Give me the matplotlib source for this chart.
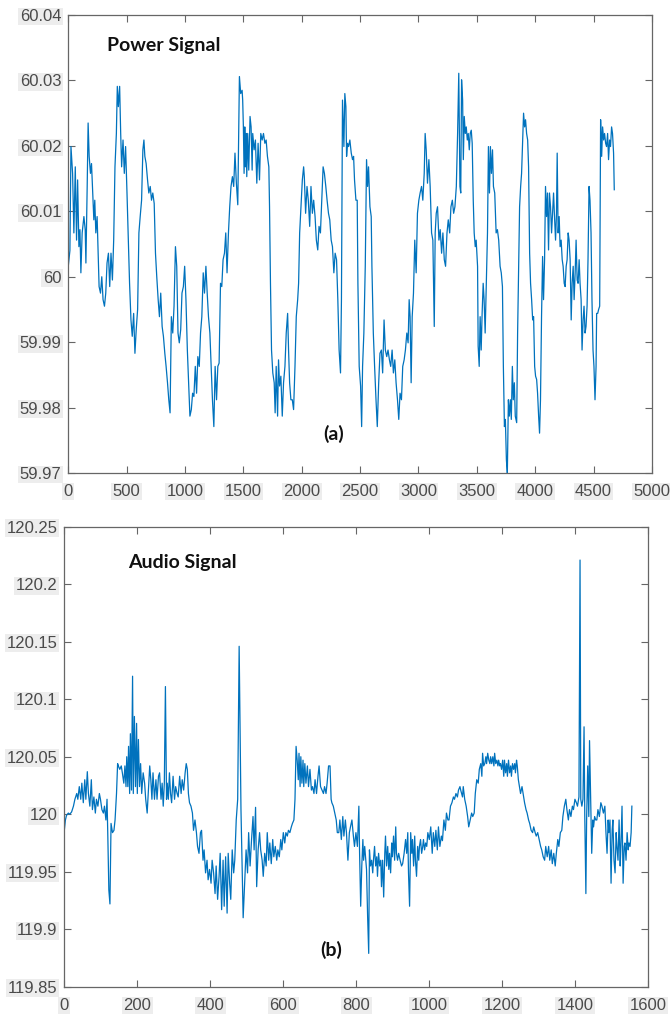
import matplotlib
matplotlib.use("Agg")
import matplotlib.pyplot as plt

# (a) power signal
power_t = [0, 14, 23, 37, 48, 60, 71, 80, 91, 100, 108, 119, 134, 145, 151, 162, 170, 179, 190, 199,
           207, 219, 227, 236, 247, 256, 264, 276, 287, 298, 310, 321, 332, 344, 355, 366, 378, 389, 400, 412,
           420, 429, 440, 449, 457, 469, 480, 491, 503, 514, 525, 537, 548, 560, 571, 582, 594, 605, 616, 628,
           639, 648, 656, 667, 679, 690, 702, 713, 724, 736, 747, 758, 770, 781, 792, 804, 815, 827, 838, 850,
           861, 872, 883, 895, 906, 918, 929, 940, 951, 963, 974, 986, 997, 1008, 1020, 1031, 1042, 1054, 1065, 1076,
           1088, 1099, 1110, 1122, 1133, 1144, 1156, 1167, 1179, 1190, 1201, 1213, 1224, 1235, 1247, 1258, 1270, 1281, 1292, 1304,
           1315, 1326, 1338, 1349, 1360, 1372, 1383, 1394, 1406, 1417, 1428, 1440, 1452, 1466, 1477, 1489, 1494, 1500, 1506, 1512,
           1517, 1523, 1529, 1537, 1546, 1557, 1566, 1575, 1580, 1592, 1603, 1615, 1626, 1638, 1649, 1661, 1672, 1684, 1695, 1706,
           1718, 1724, 1732, 1741, 1752, 1764, 1772, 1781, 1793, 1801, 1810, 1821, 1833, 1844, 1856, 1867, 1879, 1887, 1896, 1907,
           1919, 1930, 1942, 1953, 1965, 1973, 1982, 1993, 2005, 2016, 2022, 2033, 2045, 2056, 2068, 2079, 2091, 2102, 2114, 2125,
           2137, 2148, 2160, 2171, 2183, 2194, 2206, 2217, 2229, 2240, 2252, 2263, 2275, 2286, 2298, 2309, 2320, 2332, 2340, 2349,
           2361, 2369, 2378, 2384, 2392, 2401, 2412, 2424, 2435, 2444, 2452, 2464, 2475, 2481, 2492, 2504, 2513, 2521, 2532, 2544,
           2555, 2564, 2572, 2584, 2595, 2601, 2613, 2624, 2636, 2647, 2659, 2670, 2682, 2693, 2705, 2716, 2728, 2739, 2751, 2762,
           2774, 2785, 2797, 2808, 2820, 2831, 2842, 2854, 2865, 2877, 2888, 2900, 2911, 2920, 2928, 2937, 2946, 2957, 2968, 2980,
           2991, 3003, 3014, 3026, 3037, 3049, 3057, 3066, 3077, 3089, 3100, 3112, 3123, 3135, 3143, 3152, 3163, 3175, 3186, 3198,
           3209, 3221, 3232, 3244, 3255, 3267, 3278, 3290, 3301, 3312, 3324, 3335, 3345, 3355, 3362, 3369, 3378, 3384, 3392, 3401,
           3409, 3418, 3426, 3435, 3443, 3452, 3460, 3469, 3477, 3486, 3494, 3506, 3511, 3520, 3528, 3537, 3545, 3554, 3562, 3571,
           3580, 3591, 3599, 3608, 3616, 3625, 3634, 3642, 3653, 3665, 3676, 3687, 3699, 3709, 3719, 3727, 3736, 3744, 3753, 3761,
           3770, 3778, 3787, 3795, 3804, 3812, 3821, 3829, 3841, 3849, 3858, 3866, 3875, 3883, 3892, 3900, 3909, 3917, 3926, 3935,
           3943, 3952, 3960, 3969, 3978, 3986, 3995, 4003, 4012, 4020, 4029, 4037, 4045, 4054, 4063, 4071, 4080, 4088, 4097, 4105,
           4114, 4122, 4131, 4140, 4148, 4157, 4165, 4174, 4182, 4188, 4196, 4205, 4213, 4222, 4231, 4239, 4248, 4256, 4265, 4273,
           4282, 4290, 4299, 4308, 4316, 4325, 4333, 4342, 4350, 4359, 4367, 4376, 4384, 4393, 4401, 4410, 4418, 4427, 4435, 4444,
           4452, 4461, 4469, 4478, 4486, 4495, 4503, 4512, 4521, 4526, 4535, 4543, 4552, 4560, 4569, 4577, 4586, 4594, 4603, 4611,
           4620, 4628, 4637, 4645, 4654, 4662, 4671, 4677]
power_f = [60.0016, 60.0040, 60.0199, 60.0158, 60.0067, 60.0168, 60.0056, 60.0148, 60.0046, 60.0072,
           60.0006, 60.0067, 60.0092, 60.0072, 60.0021, 60.0138, 60.0235, 60.0184, 60.0158, 60.0173,
           60.0138, 60.0087, 60.0117, 60.0067, 60.0092, 60.0036, 59.9985, 59.9975, 60.0000, 59.9965,
           59.9955, 59.9975, 60.0021, 60.0036, 59.9985, 60.0036, 59.9995, 60.0056, 60.0168, 60.0219,
           60.0291, 60.0260, 60.0291, 60.0219, 60.0168, 60.0209, 60.0158, 60.0199, 60.0128, 60.0056,
           59.9990, 59.9934, 59.9909, 59.9944, 59.9883, 59.9919, 59.9950, 60.0067, 60.0092, 60.0117,
           60.0194, 60.0209, 60.0184, 60.0173, 60.0148, 60.0128, 60.0138, 60.0117, 60.0128, 60.0112,
           60.0036, 60.0000, 59.9965, 59.9939, 59.9975, 59.9924, 59.9909, 59.9883, 59.9863, 59.9838,
           59.9812, 59.9792, 59.9939, 59.9914, 59.9955, 60.0046, 60.0016, 59.9914, 59.9899, 59.9919,
           59.9975, 59.9985, 60.0016, 59.9965, 59.9888, 59.9838, 59.9787, 59.9797, 59.9822, 59.9817,
           59.9863, 59.9822, 59.9878, 59.9863, 59.9914, 59.9939, 60.0006, 59.9975, 60.0016, 59.9975,
           59.9939, 59.9914, 59.9863, 59.9812, 59.9771, 59.9863, 59.9812, 59.9863, 59.9868, 59.9990,
           59.9985, 60.0026, 60.0036, 60.0067, 60.0006, 60.0067, 60.0107, 60.0138, 60.0153, 60.0138,
           60.0189, 60.0143, 60.0110, 60.0306, 60.0280, 60.0285, 60.0270, 60.0229, 60.0158, 60.0229,
           60.0168, 60.0219, 60.0153, 60.0219, 60.0163, 60.0245, 60.0229, 60.0163, 60.0219, 60.0194,
           60.0209, 60.0143, 60.0204, 60.0148, 60.0219, 60.0209, 60.0219, 60.0204, 60.0209, 60.0184,
           60.0168, 60.0107, 59.9990, 59.9888, 59.9853, 59.9838, 59.9792, 59.9863, 59.9787, 59.9873,
           59.9833, 59.9848, 59.9787, 59.9838, 59.9863, 59.9914, 59.9944, 59.9888, 59.9838, 59.9812,
           59.9812, 59.9797, 59.9863, 59.9939, 59.9965, 59.9990, 60.0067, 60.0107, 60.0148, 60.0168,
           60.0153, 60.0097, 60.0138, 60.0117, 60.0077, 60.0138, 60.0097, 60.0117, 60.0092, 60.0056,
           60.0041, 60.0077, 60.0067, 60.0117, 60.0168, 60.0158, 60.0138, 60.0117, 60.0097, 60.0087,
           60.0056, 60.0046, 60.0006, 60.0036, 60.0026, 59.9965, 59.9888, 59.9853, 59.9965, 60.0270,
           60.0199, 60.0280, 60.0260, 60.0184, 60.0204, 60.0199, 60.0209, 60.0189, 60.0179, 60.0184,
           60.0148, 60.0117, 60.0117, 59.9990, 59.9863, 59.9833, 59.9771, 59.9863, 59.9914, 60.0016,
           60.0179, 60.0138, 60.0168, 60.0107, 60.0092, 60.0016, 59.9914, 59.9863, 59.9812, 59.9771,
           59.9838, 59.9883, 59.9888, 59.9853, 59.9934, 59.9888, 59.9878, 59.9888, 59.9873, 59.9863,
           59.9888, 59.9853, 59.9873, 59.9838, 59.9812, 59.9782, 59.9822, 59.9812, 59.9863, 59.9873,
           59.9888, 59.9914, 59.9899, 59.9965, 59.9939, 59.9838, 59.9939, 59.9975, 60.0056, 60.0006,
           60.0097, 60.0117, 60.0128, 60.0138, 60.0117, 60.0158, 60.0219, 60.0194, 60.0143, 60.0179,
           60.0138, 60.0067, 60.0056, 59.9924, 60.0067, 60.0097, 60.0107, 60.0056, 60.0072, 60.0036,
           60.0067, 60.0026, 60.0016, 60.0067, 60.0087, 60.0067, 60.0107, 60.0117, 60.0097, 60.0107,
           60.0138, 60.0219, 60.0311, 60.0138, 60.0128, 60.0301, 60.0270, 60.0179, 60.0245, 60.0219,
           60.0229, 60.0209, 60.0219, 60.0194, 60.0219, 60.0224, 60.0204, 60.0117, 60.0067, 60.0046,
           60.0056, 60.0016, 59.9894, 59.9863, 59.9939, 59.9888, 59.9944, 59.9990, 59.9965, 59.9914,
           59.9980, 60.0067, 60.0199, 60.0128, 60.0199, 60.0158, 60.0194, 60.0138, 60.0128, 60.0067,
           60.0072, 60.0056, 60.0016, 60.0006, 59.9985, 59.9863, 59.9771, 59.9782, 59.9720, 59.9700,
           59.9812, 59.9787, 59.9812, 59.9782, 59.9863, 59.9812, 59.9838, 59.9787, 59.9777, 59.9914,
           60.0016, 60.0107, 60.0138, 60.0158, 60.0209, 60.0250, 60.0229, 60.0240, 60.0219, 60.0209,
           60.0168, 60.0036, 59.9990, 59.9965, 59.9934, 59.9939, 59.9863, 59.9848, 59.9843, 59.9822,
           59.9787, 59.9761, 59.9812, 59.9939, 60.0031, 59.9965, 60.0026, 60.0138, 60.0092, 60.0128,
           60.0041, 60.0128, 60.0107, 60.0067, 60.0097, 60.0128, 60.0092, 60.0056, 60.0097, 60.0189,
           60.0067, 60.0092, 60.0046, 60.0056, 60.0026, 60.0016, 59.9990, 59.9985, 60.0016, 60.0026,
           60.0067, 60.0056, 60.0026, 59.9934, 59.9990, 60.0016, 59.9965, 60.0006, 60.0056, 59.9995,
           59.9990, 60.0026, 59.9990, 59.9965, 59.9888, 59.9934, 59.9955, 59.9914, 59.9924, 59.9955,
           60.0026, 60.0138, 60.0117, 60.0067, 59.9965, 59.9888, 59.9863, 59.9812, 59.9863, 59.9944,
           59.9944, 59.9950, 59.9955, 60.0240, 60.0184, 60.0229, 60.0209, 60.0219, 60.0204, 60.0199,
           60.0219, 60.0179, 60.0209, 60.0199, 60.0229, 60.0219, 60.0189, 60.0133]

# (b) audio signal
audio_t = [0, 3, 6, 11, 15, 20, 25, 29, 34, 37, 41, 45, 48, 52, 56, 59, 63, 66, 70, 74,
           77, 81, 85, 88, 92, 96, 99, 103, 107, 110, 114, 117, 119, 122, 125, 128, 132, 136, 139, 143,
           146, 148, 152, 156, 159, 163, 166, 169, 171, 174, 176, 179, 181, 184, 187, 189, 192, 195, 198, 200,
           203, 206, 209, 212, 216, 220, 223, 227, 230, 234, 237, 240, 243, 247, 251, 254, 258, 261, 265, 268,
           271, 274, 277, 280, 282, 285, 288, 291, 294, 298, 302, 305, 309, 312, 316, 320, 323, 327, 331, 334,
           337, 340, 343, 347, 351, 354, 358, 362, 365, 369, 373, 376, 380, 383, 387, 391, 394, 398, 402, 405,
           409, 413, 416, 420, 424, 427, 431, 435, 438, 442, 446, 449, 453, 456, 460, 464, 467, 471, 475, 479,
           484, 487, 490, 494, 498, 502, 505, 509, 513, 517, 520, 524, 527, 531, 535, 538, 542, 545, 549, 553,
           556, 560, 563, 567, 571, 574, 578, 582, 585, 589, 593, 596, 600, 604, 607, 611, 614, 618, 622, 625,
           629, 632, 635, 638, 641, 643, 646, 648, 651, 654, 656, 659, 662, 666, 669, 673, 677, 680, 684, 687,
           691, 695, 698, 702, 706, 710, 713, 717, 720, 724, 728, 731, 733, 737, 741, 745, 748, 752, 755, 759,
           763, 766, 770, 773, 777, 781, 784, 788, 792, 795, 799, 803, 807, 809, 812, 815, 818, 820, 823, 826,
           828, 831, 834, 836, 839, 842, 845, 847, 850, 853, 856, 858, 861, 864, 867, 869, 872, 875, 878, 880,
           883, 886, 889, 891, 894, 897, 899, 902, 905, 908, 910, 913, 916, 920, 924, 927, 931, 935, 938, 941,
           943, 946, 949, 952, 954, 957, 960, 962, 965, 968, 971, 973, 976, 979, 982, 984, 987, 990, 993, 996,
           1000, 1004, 1008, 1011, 1015, 1018, 1022, 1025, 1029, 1033, 1036, 1040, 1044, 1047, 1051, 1054, 1058, 1062, 1066, 1069,
           1073, 1077, 1080, 1084, 1086, 1091, 1093, 1097, 1101, 1105, 1108, 1112, 1116, 1119, 1123, 1126, 1130, 1134, 1137, 1141,
           1144, 1146, 1149, 1152, 1155, 1157, 1160, 1163, 1166, 1168, 1171, 1174, 1177, 1179, 1182, 1185, 1188, 1190, 1193, 1195,
           1198, 1201, 1204, 1206, 1209, 1212, 1214, 1217, 1220, 1223, 1225, 1228, 1231, 1234, 1236, 1239, 1241, 1244, 1247, 1250,
           1254, 1257, 1261, 1265, 1268, 1272, 1275, 1279, 1283, 1286, 1290, 1293, 1297, 1301, 1305, 1308, 1312, 1316, 1319, 1323,
           1327, 1330, 1334, 1337, 1341, 1345, 1348, 1352, 1355, 1359, 1363, 1366, 1370, 1374, 1377, 1381, 1384, 1388, 1392, 1395,
           1399, 1403, 1406, 1410, 1413, 1415, 1418, 1421, 1424, 1426, 1429, 1431, 1434, 1437, 1439, 1442, 1445, 1448, 1450, 1453,
           1456, 1459, 1462, 1466, 1470, 1473, 1477, 1481, 1484, 1487, 1490, 1492, 1495, 1498, 1501, 1503, 1506, 1509, 1512, 1514,
           1517, 1520, 1523, 1525, 1528, 1531, 1534, 1536, 1539, 1542, 1545, 1547, 1550, 1553, 1555]
audio_f = [119.986, 119.995, 119.999, 120.001, 120.000, 120.002, 120.007, 120.013, 120.018, 120.013,
           120.024, 120.013, 120.027, 120.010, 120.030, 120.013, 120.037, 120.018, 120.007, 120.030,
           120.004, 120.015, 120.001, 120.013, 120.007, 120.018, 120.013, 120.004, 120.001, 120.007,
           119.995, 120.013, 119.984, 119.934, 119.922, 119.992, 119.984, 119.986, 119.995, 120.018,
           120.044, 120.042, 120.039, 120.042, 120.036, 120.027, 120.042, 120.024, 120.050, 120.024,
           120.059, 120.018, 120.070, 120.021, 120.120, 120.018, 120.085, 120.024, 120.079, 120.018,
           120.065, 120.024, 120.044, 120.018, 120.036, 120.027, 120.013, 120.001, 120.018, 120.042,
           120.030, 120.013, 120.036, 120.013, 120.030, 120.013, 120.033, 120.036, 120.013, 120.027,
           120.007, 120.027, 120.111, 120.013, 120.027, 120.013, 120.036, 120.018, 120.010, 120.033,
           120.013, 120.024, 120.018, 120.015, 120.033, 120.018, 120.030, 120.021, 120.036, 120.044,
           120.039, 120.018, 120.010, 120.007, 120.001, 119.986, 119.995, 119.984, 119.972, 119.966,
           119.984, 119.986, 119.960, 119.969, 119.949, 119.960, 119.943, 119.952, 119.940, 119.960,
           119.949, 119.931, 119.955, 119.926, 119.946, 119.966, 119.917, 119.960, 119.920, 119.963,
           119.914, 119.966, 119.940, 119.926, 119.969, 119.949, 119.960, 119.995, 120.013, 120.146,
           120.004, 119.955, 119.910, 119.940, 119.969, 119.949, 119.984, 119.955, 119.978, 119.998,
           119.969, 120.006, 119.937, 119.969, 119.984, 119.969, 119.960, 119.946, 119.966, 119.955,
           119.984, 119.960, 119.975, 119.957, 119.978, 119.963, 119.972, 119.960, 119.969, 119.963,
           119.978, 119.969, 119.984, 119.975, 119.984, 119.981, 119.986, 119.984, 119.989, 119.992,
           119.995, 120.013, 120.059, 120.047, 120.030, 120.053, 120.024, 120.050, 120.027, 120.047,
           120.024, 120.044, 120.027, 120.042, 120.024, 120.039, 120.021, 120.024, 120.018, 120.030,
           120.018, 120.033, 120.042, 120.024, 120.021, 120.018, 120.024, 120.018, 120.027, 120.042,
           120.042, 120.013, 120.010, 120.007, 120.001, 119.995, 119.984, 119.984, 119.995, 119.978,
           119.998, 119.981, 119.995, 119.984, 119.960, 119.984, 119.989, 119.995, 119.981, 119.972,
           119.984, 119.972, 120.007, 119.966, 119.920, 119.955, 119.978, 119.960, 119.972, 119.960,
           119.952, 119.911, 119.879, 119.969, 119.955, 119.960, 119.949, 119.960, 119.972, 119.955,
           119.963, 119.946, 119.966, 119.955, 119.960, 119.937, 119.960, 119.928, 119.966, 119.981,
           119.955, 119.972, 119.952, 119.966, 119.949, 119.975, 119.963, 119.981, 119.960, 119.989,
           119.966, 119.960, 119.966, 119.960, 119.955, 119.957, 119.966, 119.978, 119.966, 119.984,
           119.949, 119.920, 119.984, 119.966, 119.978, 119.955, 119.981, 119.960, 119.946, 119.972,
           119.960, 119.972, 119.978, 119.966, 119.972, 119.978, 119.969, 119.975, 119.972, 119.984,
           119.978, 119.989, 119.966, 119.984, 119.972, 119.986, 119.969, 119.989, 119.972, 119.981,
           119.977, 119.995, 119.986, 120.001, 119.995, 119.995, 120.007, 120.010, 120.015, 120.013,
           120.018, 120.015, 120.021, 120.024, 120.021, 120.015, 120.024, 120.013, 120.007, 119.998,
           119.989, 119.995, 120.001, 119.998, 120.001, 120.018, 120.030, 120.027, 120.039, 120.044,
           120.033, 120.053, 120.042, 120.044, 120.050, 120.044, 120.053, 120.047, 120.044, 120.050,
           120.044, 120.050, 120.042, 120.053, 120.044, 120.047, 120.042, 120.047, 120.042, 120.044,
           120.039, 120.047, 120.033, 120.047, 120.036, 120.044, 120.033, 120.047, 120.036, 120.042,
           120.033, 120.044, 120.039, 120.044, 120.036, 120.047, 120.042, 120.030, 120.024, 120.018,
           120.024, 120.018, 120.010, 120.004, 120.001, 119.995, 119.992, 119.986, 119.984, 119.989,
           119.984, 119.981, 119.984, 119.978, 119.972, 119.969, 119.963, 119.960, 119.972, 119.963,
           119.972, 119.960, 119.969, 119.957, 119.966, 119.955, 119.966, 119.978, 119.972, 119.984,
           119.986, 119.998, 120.007, 120.013, 120.004, 119.995, 120.004, 119.998, 120.007, 120.004,
           120.013, 120.010, 120.007, 120.015, 120.221, 120.013, 120.007, 120.013, 120.076, 119.998,
           119.931, 119.995, 120.042, 119.998, 120.064, 120.013, 119.966, 119.995, 119.989, 119.998,
           119.995, 119.995, 120.004, 119.998, 120.010, 120.007, 120.001, 120.007, 119.984, 119.966,
           119.995, 119.984, 119.995, 119.940, 119.986, 119.995, 119.960, 119.949, 119.984, 119.972,
           119.960, 119.995, 119.955, 119.972, 120.007, 119.940, 119.972, 119.975, 119.960, 119.984,
           119.969, 119.975, 119.972, 119.984, 120.007]

power_yticks = [59.97, 59.98, 59.99, 60.0, 60.01, 60.02, 60.03, 60.04]
power_ylabels = ["59.97", "59.98", "59.99", "60", "60.01", "60.02", "60.03", "60.04"]
power_xticks = [0, 500, 1000, 1500, 2000, 2500, 3000, 3500, 4000, 4500, 5000]
audio_yticks = [119.85, 119.9, 119.95, 120.0, 120.05, 120.1, 120.15, 120.2, 120.25]
audio_ylabels = ["119.85", "119.9", "119.95", "120", "120.05", "120.1", "120.15", "120.2", "120.25"]
audio_xticks = [0, 200, 400, 600, 800, 1000, 1200, 1400, 1600]

LINE = "#0072BD"
AXCOL = "#666666"
NOTE_FONT = ["Lato", "DejaVu Sans"]

fig = plt.figure(figsize=(6.7, 10.16), dpi=100)
ax1 = fig.add_axes([0.1019, 0.5344, 0.8712, 0.4508])
ax2 = fig.add_axes([0.0960, 0.0288, 0.8716, 0.4528])


def matlab_style(ax, xticks, yticks, ylabels):
    ax.set_xticks(xticks)
    ax.set_xticklabels([str(v) for v in xticks])
    ax.set_yticks(yticks)
    ax.set_yticklabels(ylabels)
    ax.tick_params(direction="in", length=5, width=0.8, color=AXCOL,
                   top=True, right=True, labelsize=12, labelcolor="#4a4a4a")
    ax.tick_params(axis="x", pad=8)
    ax.tick_params(axis="y", pad=5)
    for lab in ax.get_xticklabels() + ax.get_yticklabels():
        lab.set_family(["Liberation Sans", "DejaVu Sans"])
        lab.set_bbox(dict(facecolor="#ededed", edgecolor="none", pad=1.0))
    for sp in ax.spines.values():
        sp.set_color(AXCOL)
        sp.set_linewidth(0.9)


ax1.plot(power_t, power_f, color=LINE, lw=0.9)
ax1.set_xlim(0, 5000)
ax1.set_ylim(59.97, 60.04)
matlab_style(ax1, power_xticks, power_yticks, power_ylabels)
ax1.text(332, 60.0354, "Power Signal", fontsize=14, fontweight="bold",
         family=NOTE_FONT, va="center", ha="left", color="#111111")
ax1.text(2270, 59.976, "(a)", fontsize=14, fontweight="bold",
         family=NOTE_FONT, va="center", ha="center", color="#111111")

ax2.plot(audio_t, audio_f, color=LINE, lw=0.9)
ax2.set_xlim(0, 1600)
ax2.set_ylim(119.85, 120.25)
matlab_style(ax2, audio_xticks, audio_yticks, audio_ylabels)
ax2.text(174, 120.2185, "Audio Signal", fontsize=14, fontweight="bold",
         family=NOTE_FONT, va="center", ha="left", color="#111111")
ax2.text(731, 119.882, "(b)", fontsize=14, fontweight="bold",
         family=NOTE_FONT, va="center", ha="center", color="#111111")

fig.savefig("out.png", dpi=100)
